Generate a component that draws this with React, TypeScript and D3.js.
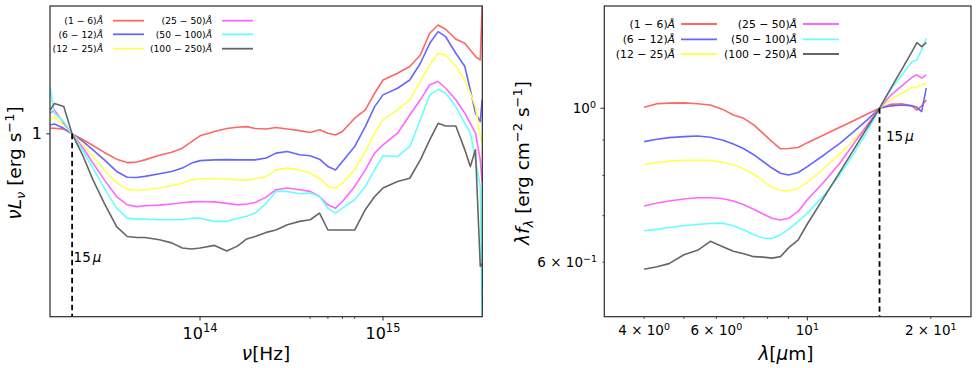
import React from 'react';
import * as d3 from 'd3';

// ---------- data ----------
const bandLabels = ['(1 − 6)', '(6 − 12)', '(12 − 25)', '(25 − 50)', '(50 − 100)', '(100 − 250)'];
const bandColors = ['#ff6666', '#6666ff', '#ffff55', '#ff66ff', '#66ffff', '#666666'];

// left panel: frequency [Hz]
const nuHz = [1.52e13, 1.6e13, 1.8e13, 2.0e13, 2.3e13, 2.6e13, 3e13, 3.5e13, 4e13, 4.5e13, 5e13, 6e13, 7e13, 8e13, 9e13,
  1e14, 1.2e14, 1.4e14, 1.6e14, 1.8e14, 2e14, 2.3e14, 2.6e14, 3e14, 3.5e14, 4e14, 4.5e14, 5e14, 5.5e14, 6e14, 7e14, 8e14, 9e14,
  1e15, 1.2e15, 1.4e15, 1.6e15, 1.8e15, 2e15, 2.2e15, 2.5e15, 2.8e15, 3e15, 3.2e15, 3.4e15, 3.48e15];
const nuL_1_6 = [1.026, 1.026, 1.022, 1.000, 0.973, 0.948, 0.918, 0.890, 0.876, 0.878, 0.887, 0.906, 0.919, 0.936, 0.965, 0.991,
  1.011, 1.025, 1.031, 1.034, 1.025, 1.023, 1.030, 1.023, 1.015, 1.006, 1.019, 1.003, 0.995, 1.011, 1.075, 1.117, 1.206, 1.282,
  1.322, 1.364, 1.439, 1.590, 1.652, 1.620, 1.547, 1.518, 1.472, 1.428, 1.406, 1.798];
const nuL_6_12 = [1.042, 1.047, 1.026, 1.000, 0.965, 0.929, 0.887, 0.841, 0.819, 0.818, 0.822, 0.832, 0.841, 0.854, 0.874, 0.884,
  0.887, 0.888, 0.887, 0.887, 0.887, 0.895, 0.915, 0.922, 0.908, 0.904, 0.890, 0.860, 0.847, 0.880, 0.943, 1.034, 1.134, 1.197,
  1.234, 1.282, 1.385, 1.518, 1.602, 1.565, 1.450, 1.364, 1.224, 1.100, 1.058, 1.170];
const nuL_12_25 = [1.067, 1.083, 1.042, 1.000, 0.951, 0.901, 0.847, 0.797, 0.775, 0.770, 0.773, 0.779, 0.787, 0.797, 0.809, 0.813,
  0.814, 0.812, 0.809, 0.808, 0.812, 0.822, 0.847, 0.854, 0.847, 0.835, 0.815, 0.785, 0.779, 0.797, 0.847, 0.922, 1.003, 1.067,
  1.117, 1.170, 1.273, 1.374, 1.450, 1.439, 1.364, 1.282, 1.206, 1.134, 0.988, 0.960];
const nuL_25_50 = [1.100, 1.117, 1.050, 1.000, 0.936, 0.874, 0.809, 0.749, 0.721, 0.715, 0.718, 0.720, 0.724, 0.728, 0.731, 0.732,
  0.731, 0.726, 0.721, 0.724, 0.729, 0.747, 0.773, 0.779, 0.773, 0.767, 0.749, 0.721, 0.710, 0.732, 0.785, 0.847, 0.915, 0.951,
  1.003, 1.091, 1.170, 1.254, 1.273, 1.234, 1.170, 1.100, 1.050, 1.003, 0.887, 0.800];
const nuL_50_100 = [1.234, 1.100, 1.058, 1.000, 0.922, 0.854, 0.779, 0.710, 0.678, 0.675, 0.675, 0.673, 0.673, 0.673, 0.678, 0.678,
  0.668, 0.668, 0.678, 0.684, 0.694, 0.726, 0.767, 0.767, 0.759, 0.761, 0.749, 0.710, 0.694, 0.710, 0.738, 0.785, 0.847, 0.904,
  0.901, 0.943, 1.067, 1.197, 1.228, 1.206, 1.134, 1.050, 1.003, 0.887, 0.785, 0.431];
const nuL_100_250 = [1.117, 1.150, 1.135, 1.000, 0.901, 0.809, 0.726, 0.652, 0.623, 0.620, 0.620, 0.614, 0.605, 0.591, 0.588, 0.591,
  0.598, 0.583, 0.596, 0.616, 0.623, 0.635, 0.642, 0.658, 0.668, 0.673, 0.694, 0.642, 0.642, 0.642, 0.642, 0.705, 0.749, 0.779,
  0.803, 0.815, 0.887, 0.973, 1.050, 1.037, 1.037, 0.929, 0.860, 0.929, 0.543, 0.550];

// right panel: wavelength [micron]
const lamUm = [4.0, 4.3, 4.6, 5.0, 5.4, 5.8, 6.2, 6.6, 7.0, 7.4, 7.8, 8.2, 8.6, 9.0, 9.5, 10, 11, 12, 13, 14, 15, 16, 17, 18, 18.5, 19, 19.5];
const lamF_1_6 = [1.003, 1.015, 1.017, 1.018, 1.015, 1.011, 0.997, 0.978, 0.967, 0.946, 0.920, 0.895, 0.874, 0.875, 0.878, 0.892,
  0.916, 0.939, 0.960, 0.981, 1.000, 1.013, 1.015, 1.008, 0.994, 1.008, 1.028];
const lamF_6_12 = [0.895, 0.902, 0.907, 0.910, 0.912, 0.908, 0.900, 0.888, 0.874, 0.857, 0.838, 0.820, 0.806, 0.801, 0.808, 0.824,
  0.857, 0.890, 0.926, 0.962, 1.000, 1.008, 1.011, 1.008, 1.003, 0.989, 1.069];
const lamF_12_25 = [0.829, 0.835, 0.839, 0.841, 0.841, 0.841, 0.836, 0.829, 0.818, 0.804, 0.786, 0.769, 0.761, 0.760, 0.767, 0.782,
  0.820, 0.860, 0.900, 0.943, 1.000, 1.031, 1.051, 1.071, 1.072, 1.080, 1.086];
const lamF_25_50 = [0.723, 0.730, 0.735, 0.740, 0.743, 0.743, 0.741, 0.735, 0.726, 0.715, 0.704, 0.694, 0.690, 0.694, 0.710, 0.738,
  0.784, 0.833, 0.890, 0.946, 1.000, 1.045, 1.077, 1.108, 1.117, 1.105, 1.117];
const lamF_50_100 = [0.666, 0.669, 0.673, 0.677, 0.680, 0.682, 0.683, 0.677, 0.668, 0.657, 0.650, 0.649, 0.657, 0.669, 0.687, 0.706,
  0.750, 0.801, 0.861, 0.926, 1.000, 1.065, 1.117, 1.167, 1.174, 1.214, 1.261];
const lamF_100_250 = [0.586, 0.591, 0.597, 0.615, 0.624, 0.643, 0.632, 0.622, 0.617, 0.611, 0.610, 0.608, 0.611, 0.629, 0.646, 0.681,
  0.745, 0.809, 0.873, 0.938, 1.000, 1.070, 1.138, 1.207, 1.243, 1.227, 1.243];

const leftSeries = [nuL_1_6, nuL_6_12, nuL_12_25, nuL_25_50, nuL_50_100, nuL_100_250];
const rightSeries = [lamF_1_6, lamF_6_12, lamF_12_25, lamF_25_50, lamF_50_100, lamF_100_250];

const nu15 = 2.0e13;
const lam15 = 15;

const leftMajorX = [1e14, 1e15];
const leftMinorX = [4e14, 5e14, 6e14, 7e14];
const rightMajorX = [10];
const rightMinorX = [4, 5, 6, 7, 8, 9, 20];
const rightXLabels = [
  { v: 4, m: '4 × 10', e: '0' },
  { v: 6, m: '6 × 10', e: '0' },
  { v: 10, m: '10', e: '1' },
  { v: 20, m: '2 × 10', e: '1' },
];
const rightMinorY = [0.7, 0.8, 0.9];

const FONT = "'DejaVu Sans', sans-serif";
const SPINE = '#2a2a2a';

export default function App() {
  const lx = d3.scaleLog().domain([1.514e13, 3.488e15]).range([50, 482.3]);
  const ly = d3.scaleLog().domain([0.4305, 1.803]).range([316.7, 6]);
  const rx = d3.scaleLog().domain([3.198, 25.07]).range([604.3, 971]);
  const ry = d3.scaleLog().domain([0.5006, 1.404]).range([316.7, 6]);

  const lLine = (ys: number[]) =>
    d3.line<number>().x((_, i) => lx(nuHz[i])).y((d) => ly(d))(ys) || '';
  const rLine = (ys: number[]) =>
    d3.line<number>().x((_, i) => rx(lamUm[i])).y((d) => ry(d))(ys) || '';

  const legend = (x1: number, x2: number, lineLen: number, rows: number[], fs: number, gap: number) =>
    bandLabels.map((lab, i) => {
      const col = i < 3 ? 0 : 1;
      const row = i % 3;
      const tx = col === 0 ? x1 : x2;
      const y = rows[row];
      return (
        <g key={i}>
          <text x={tx} y={y + fs * 0.36} textAnchor="end" fontSize={fs} fontFamily={FONT}>
            {lab}<tspan fontStyle="italic">Å</tspan>
          </text>
          <line x1={tx + gap} x2={tx + gap + lineLen} y1={y} y2={y} stroke={bandColors[i]} strokeWidth={1.8} />
        </g>
      );
    });

  return (
    <svg width={978} height={368} style={{ display: 'block', position: 'absolute', left: 0, top: 0 }} fontFamily={FONT}>
      <defs>
        <clipPath id="clipL"><rect x={50} y={6} width={432.3} height={310.7} /></clipPath>
        <clipPath id="clipR"><rect x={604.3} y={6} width={366.7} height={310.7} /></clipPath>
      </defs>
      <rect width={978} height={368} fill="#fff" />

      {/* ---------- LEFT PANEL ---------- */}
      <g clipPath="url(#clipL)">
        {leftSeries.map((s, i) => (
          <path key={i} d={lLine(s)} fill="none" stroke={bandColors[i]} strokeWidth={1.6} strokeLinejoin="round" />
        ))}
        <line x1={lx(nu15)} x2={lx(nu15)} y1={ly(1)} y2={316.7} stroke="#000" strokeWidth={1.8} strokeDasharray="5.5,3.5" />
      </g>
      <text x={lx(nu15) + 1.5} y={262} fontSize={13.5} fontFamily={FONT}>15<tspan fontStyle="italic" dx={2}>μ</tspan></text>
      {legend(103, 212, 31, [20.7, 34.3, 48.7], 9.2, 10)}
      <rect x={50} y={6} width={432.3} height={310.7} fill="none" stroke={SPINE} strokeWidth={1.2} />
      {/* ticks */}
      {leftMajorX.map((v) => (
        <line key={v} x1={lx(v)} x2={lx(v)} y1={316.7} y2={320.5} stroke={SPINE} strokeWidth={1} />
      ))}
      {leftMinorX.map((v) => (
        <line key={v} x1={lx(v)} x2={lx(v)} y1={316.7} y2={319} stroke={SPINE} strokeWidth={0.8} />
      ))}
      <line x1={46.2} x2={50} y1={ly(1)} y2={ly(1)} stroke={SPINE} strokeWidth={1} />
      <text x={42} y={ly(1) + 5.5} textAnchor="end" fontSize={16}>1</text>
      {leftMajorX.map((v, i) => (
        <text key={v} x={lx(v)} y={338.5} textAnchor="middle" fontSize={16}>
          10<tspan dy={-6.5} fontSize={11.5}>{i === 0 ? '14' : '15'}</tspan>
        </text>
      ))}
      <text x={266} y={360} textAnchor="middle" fontSize={18.5}>
        <tspan fontStyle="italic">ν</tspan>[Hz]
      </text>
      <text transform="translate(21,163) rotate(-90)" textAnchor="middle" fontSize={18.5}>
        <tspan fontStyle="italic">νL</tspan>
        <tspan fontStyle="italic" fontSize={13} dy={4}>ν</tspan>
        <tspan dy={-4}> [erg s</tspan>
        <tspan fontSize={13} dy={-7.5}>−1</tspan>
        <tspan dy={7.5}>]</tspan>
      </text>

      {/* ---------- RIGHT PANEL ---------- */}
      <g clipPath="url(#clipR)">
        {rightSeries.map((s, i) => (
          <path key={i} d={rLine(s)} fill="none" stroke={bandColors[i]} strokeWidth={1.6} strokeLinejoin="round" />
        ))}
        <line x1={rx(lam15)} x2={rx(lam15)} y1={ry(1)} y2={316.7} stroke="#000" strokeWidth={1.8} strokeDasharray="5.5,3.5" />
      </g>
      <text x={rx(lam15) + 6.5} y={141} fontSize={13.5}>15<tspan fontStyle="italic" dx={2}>μ</tspan></text>
      {legend(675, 797, 36, [24, 39.3, 54], 10.8, 6)}
      <rect x={604.3} y={6} width={366.7} height={310.7} fill="none" stroke={SPINE} strokeWidth={1.2} />
      {rightMajorX.map((v) => (
        <line key={v} x1={rx(v)} x2={rx(v)} y1={316.7} y2={320.5} stroke={SPINE} strokeWidth={1} />
      ))}
      {rightMinorX.map((v) => (
        <line key={v} x1={rx(v)} x2={rx(v)} y1={316.7} y2={319} stroke={SPINE} strokeWidth={0.8} />
      ))}
      {rightXLabels.map((t) => (
        <text key={t.v} x={rx(t.v)} y={335} textAnchor="middle" fontSize={13.5}>
          {t.m}<tspan dy={-5.5} fontSize={9.5}>{t.e}</tspan>
        </text>
      ))}
      <line x1={600.5} x2={604.3} y1={ry(1)} y2={ry(1)} stroke={SPINE} strokeWidth={1} />
      <line x1={602.3} x2={604.3} y1={ry(0.6)} y2={ry(0.6)} stroke={SPINE} strokeWidth={0.8} />
      {rightMinorY.map((v) => (
        <line key={v} x1={602.3} x2={604.3} y1={ry(v)} y2={ry(v)} stroke={SPINE} strokeWidth={0.8} />
      ))}
      <text x={596} y={ry(1) + 5} textAnchor="end" fontSize={13.5}>
        10<tspan dy={-5.5} fontSize={9.5}>0</tspan>
      </text>
      <text x={597} y={ry(0.6) + 5} textAnchor="end" fontSize={13.5}>
        6 × 10<tspan dy={-5.5} fontSize={9.5}>−1</tspan>
      </text>
      <text x={786} y={360} textAnchor="middle" fontSize={18.5}>
        <tspan fontStyle="italic">λ</tspan>[<tspan fontStyle="italic">μ</tspan>m]
      </text>
      <text transform="translate(529,163) rotate(-90)" textAnchor="middle" fontSize={18.5}>
        <tspan fontStyle="italic">λf</tspan>
        <tspan fontStyle="italic" fontSize={13} dy={4}>λ</tspan>
        <tspan dy={-4}> [erg cm</tspan>
        <tspan fontSize={13} dy={-7.5}>−2</tspan>
        <tspan dy={7.5}> s</tspan>
        <tspan fontSize={13} dy={-7.5}>−1</tspan>
        <tspan dy={7.5}>]</tspan>
      </text>
    </svg>
  );
}
